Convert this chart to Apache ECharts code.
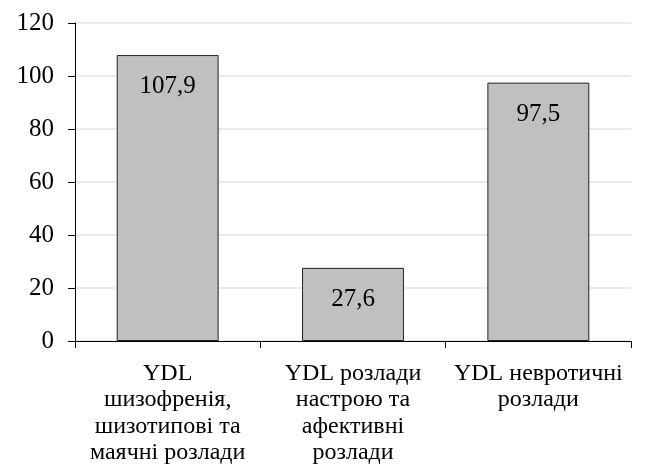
<!DOCTYPE html>
<html>
<head>
<meta charset="utf-8">
<script src="https://cdn.jsdelivr.net/npm/echarts@6/dist/echarts.min.js"></script>
<style>
html,body{margin:0;padding:0;background:#fff;}
#myChart{width:650px;height:476px;}
</style>
</head>
<body>
<div id="myChart"></div>
<script type="text/javascript">
//дані
var categories = ['YDL\nшизофренія,\nшизотипові та\nмаячні розлади', 'YDL розлади\nнастрою та\nафективні\nрозлади', 'YDL невротичні\nрозлади'];
var values = [107.9, 27.6, 97.5];
var yTicks = [0, 20, 40, 60, 80, 100, 120];

var font = '"Liberation Serif", "Times New Roman", serif';

var option = {
	animation: false,
	textStyle: { fontFamily: font },
	grid: { left: 75, right: 19, top: 23, bottom: 135 },
	xAxis: {
		type: 'category',
		data: categories,
		axisLine: { lineStyle: { color: '#000', width: 1 } },
		axisTick: { show: true, length: 7, lineStyle: { color: '#000' } },
		axisLabel: { color: '#000', fontSize: 24, fontFamily: font, lineHeight: 26.5, margin: 19, interval: 0 }
	},
	yAxis: {
		type: 'value',
		min: yTicks[0],
		max: yTicks[yTicks.length - 1],
		interval: 20,
		axisLine: { show: true, lineStyle: { color: '#000', width: 1 } },
		axisTick: { show: true, length: 7, lineStyle: { color: '#000' } },
		axisLabel: { color: '#000', fontSize: 25, fontFamily: font, margin: 21 },
		splitLine: { lineStyle: { color: '#e3e3e3', width: 1.5 } }
	},
	series: [{
		type: 'bar',
		data: values,
		barWidth: '55%',
		itemStyle: { color: '#c0c0c0', borderColor: '#222', borderWidth: 1 },
		label: {
			show: true,
			position: 'insideTop',
			distance: 19,
			color: '#000',
			fontSize: 25,
			fontFamily: font,
			formatter: function (p) { return p.value.toFixed(1).replace('.', ','); }
		}
	}]
};
echarts.init(document.getElementById('myChart')).setOption(option);
</script>
</body>
</html>
